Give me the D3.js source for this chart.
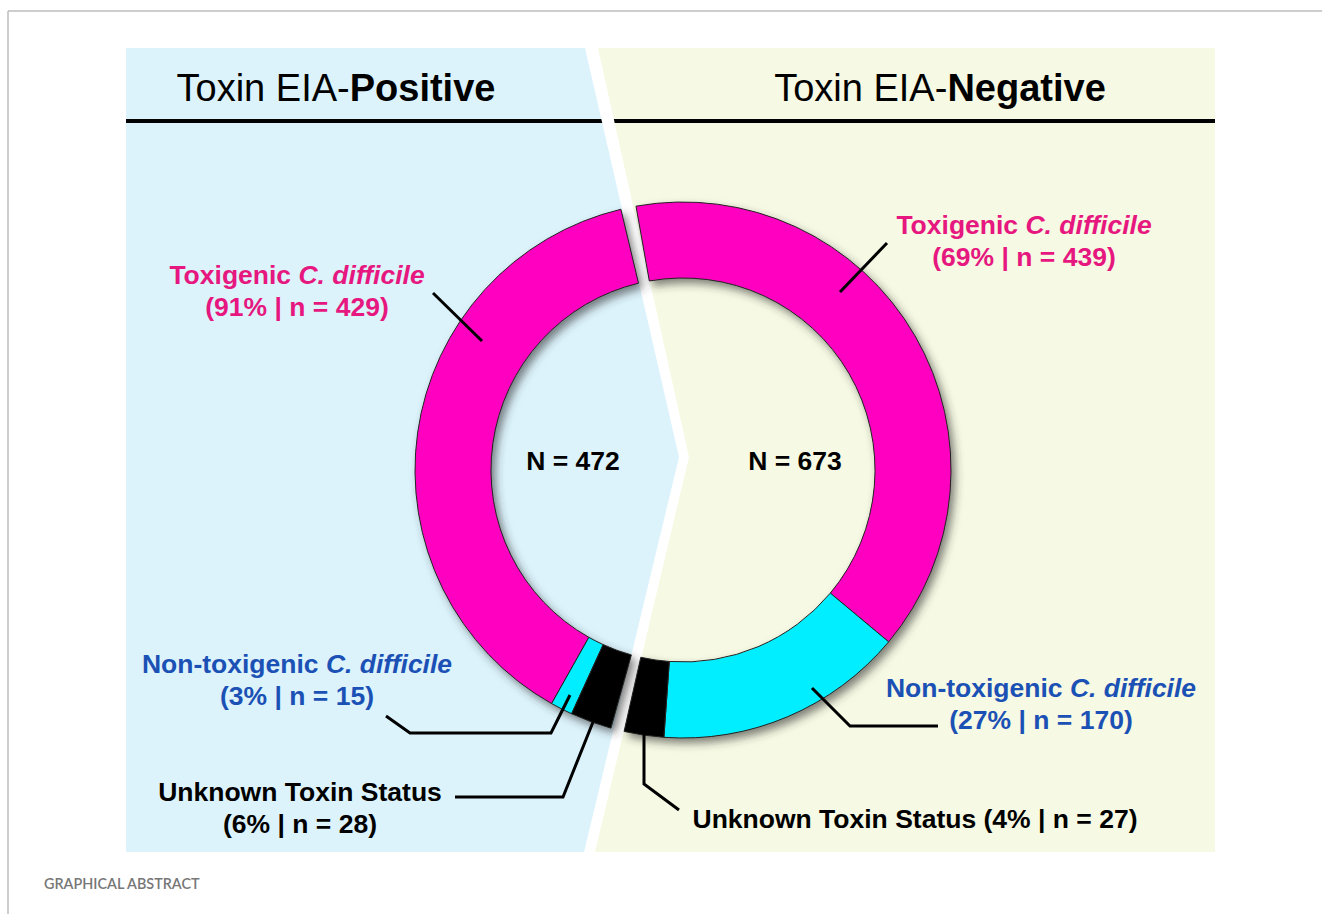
<!DOCTYPE html>
<html>
<head>
<meta charset="utf-8">
<script src="https://cdn.jsdelivr.net/npm/d3@7"></script>
<style>
  body { margin: 0; background: #fff; }
  svg { display: block; }
  .label { font-family: "Liberation Sans", Arial, sans-serif; font-weight: bold; font-size: 26.5px; }
  .header { font-family: "Liberation Sans", Arial, sans-serif; font-size: 38px; }
  .caption { font-family: Lato, "Open Sans", sans-serif; font-size: 14.4px; font-weight: 600; fill: #777; }
</style>
</head>
<body>
<div id="chart"></div>
<script>
// data read from the graphical abstract
const groups = ['Positive', 'Negative'];
const groupTotals = [472, 673];
const categories = ['Toxigenic', 'Non-toxigenic', 'Unknown'];
const positiveCounts = [429, 15, 28];
const negativeCounts = [439, 170, 27];
const positivePct = [91, 3, 6];
const negativePct = [69, 27, 4];

const width = 1322, height = 914;
const center = {x: 683, y: 470};
const outerR = 268, innerR = 192;
const deg = Math.PI / 180;

// angular extent of each half ring (left half runs counter-clockwise)
const halves = [
  {group: 'Positive', counts: positiveCounts, pct: positivePct, start: -13.4, end: -164.4},
  {group: 'Negative', counts: negativeCounts, pct: negativePct, start: -10.1, end: 192.7}
];

const color = d3.scaleOrdinal(categories, ['#ff00c0', '#00eeff', '#000000']);
const textColor = d3.scaleOrdinal(categories, ['#e6177f', '#1b51b5', '#000000']);

const svg = d3.select('#chart').append('svg')
    .attr('width', width)
    .attr('height', height);

const defs = svg.append('defs');
const shadow = defs.append('filter').attr('id', 'shadow')
    .attr('x', '-20%').attr('y', '-20%').attr('width', '140%').attr('height', '140%');
shadow.append('feDropShadow')
    .attr('dx', 4).attr('dy', 5).attr('stdDeviation', 4)
    .attr('flood-color', '#333').attr('flood-opacity', 0.6);

// page frame
svg.append('line').attr('x1', 8).attr('y1', 11).attr('x2', width).attr('y2', 11)
    .attr('stroke', '#bdbdbd').attr('stroke-width', 1.5);
svg.append('line').attr('x1', 8).attr('y1', 11).attr('x2', 8).attr('y2', height)
    .attr('stroke', '#bdbdbd').attr('stroke-width', 1.5);

// background panels with chevron gap
const panels = [
  {id: 'pPos', fill: '#dcf3fc', pts: [[126, 48], [585, 48], [679, 457], [584, 852], [126, 852]]},
  {id: 'pNeg', fill: '#f6f9e3', pts: [[598, 48], [1215, 48], [1215, 852], [595, 852], [689, 457]]}
];
panels.forEach(p => {
  defs.append('clipPath').attr('id', p.id)
    .append('polygon').attr('points', p.pts.map(d => d.join(',')).join(' '));
  svg.append('polygon')
      .attr('points', p.pts.map(d => d.join(',')).join(' '))
      .attr('fill', p.fill);
});

// headers
const headers = [
  {x: 336, clip: 'pPos', bold: 'Positive'},
  {x: 940, clip: 'pNeg', bold: 'Negative'}
];
headers.forEach(h => {
  const t = svg.append('text').attr('class', 'header')
      .attr('x', h.x).attr('y', 101).attr('text-anchor', 'middle');
  t.append('tspan').text('Toxin EIA-');
  t.append('tspan').attr('font-weight', 'bold').text(h.bold);
  svg.append('rect')
      .attr('x', 100).attr('y', 119).attr('width', 1140).attr('height', 4)
      .attr('fill', '#000')
      .attr('clip-path', `url(#${h.clip})`);
});

// rings
const arc = d3.arc().innerRadius(innerR).outerRadius(outerR);
const ring = svg.append('g')
    .attr('transform', `translate(${center.x},${center.y})`)
    .attr('filter', 'url(#shadow)');

halves.forEach(h => {
  const pie = d3.pie().sort(null)
      .startAngle(h.start * deg)
      .endAngle(h.end * deg);
  const slices = pie(h.counts)
      .map((s, i) => Object.assign(s, {cat: categories[i]}));
  ring.selectAll(null)
      .data(slices)
      .join('path')
      .attr('d', arc)
      .attr('fill', d => color(d.cat))
      .attr('stroke', '#222')
      .attr('stroke-width', 1);
});

// totals in the middle
svg.selectAll('.total')
    .data(groupTotals)
    .join('text')
    .attr('class', 'label total')
    .attr('x', (d, i) => i === 0 ? 573 : 795)
    .attr('y', 470)
    .attr('text-anchor', 'middle')
    .text(d => `N = ${d}`);

// leader lines
const leaders = [
  [[433, 293], [482, 341]],
  [[386, 716], [410, 733], [551, 733], [570, 695]],
  [[455, 797], [563, 797], [593, 722]],
  [[887, 243], [840, 292]],
  [[812, 688], [850, 726], [938, 726]],
  [[644, 730], [644, 784], [679, 810]]
];
svg.selectAll('.leader')
    .data(leaders)
    .join('polyline')
    .attr('class', 'leader')
    .attr('points', d => d.map(p => p.join(',')).join(' '))
    .attr('fill', 'none')
    .attr('stroke', '#000')
    .attr('stroke-width', 3);

// category labels
const labelPos = [
  {g: 0, c: 0, x: 297, y: 284},
  {g: 0, c: 1, x: 297, y: 673},
  {g: 0, c: 2, x: 300, y: 801},
  {g: 1, c: 0, x: 1024, y: 234},
  {g: 1, c: 1, x: 1041, y: 697},
  {g: 1, c: 2, x: 915, y: 828, oneLine: true}
];

labelPos.forEach(l => {
  const h = halves[l.g];
  const cat = categories[l.c];
  const stat = `(${h.pct[l.c]}% | n = ${h.counts[l.c]})`;
  const t = svg.append('text').attr('class', 'label')
      .attr('x', l.x).attr('y', l.y)
      .attr('text-anchor', 'middle')
      .attr('fill', textColor(cat));
  if (cat === 'Unknown') {
    t.append('tspan').text(l.oneLine ? `Unknown Toxin Status ${stat}` : 'Unknown Toxin Status');
  } else {
    t.append('tspan').text(cat + ' ');
    t.append('tspan').attr('font-style', 'italic').text('C. difficile');
  }
  if (!l.oneLine) {
    t.append('tspan').attr('x', l.x).attr('dy', 32).text(stat);
  }
});

svg.append('text').attr('class', 'caption')
    .attr('x', 44).attr('y', 889)
    .text('GRAPHICAL ABSTRACT');
</script>
</body>
</html>
